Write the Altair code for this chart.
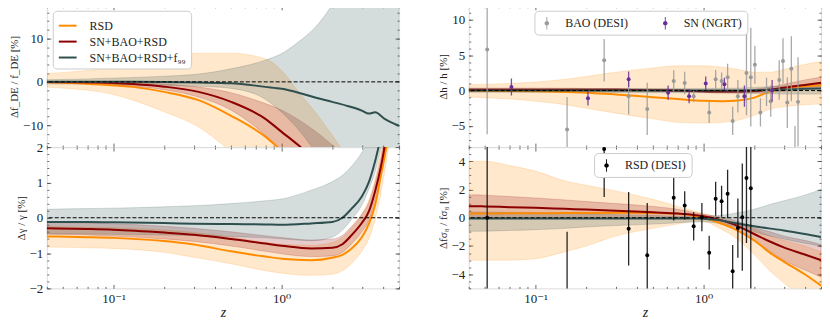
import altair as alt
import pandas as pd

FONT = "Liberation Serif, DejaVu Serif, serif"
C_RSD = "#ff8c00"
C_SBR = "#8b0000"
C_ALL = "#2f4f4f"
C_BAO = "#9a9a9a"
C_SN = "#6a2c9a"
NAMES = ["RSD", "SN+BAO+RSD", "SN+BAO+RSD+f₉₉"]
COLORS = [C_RSD, C_SBR, C_ALL]

# ---------------- top-left: Delta f_DE / f_DE ----------------
Z_TL = [0.04, 0.06, 0.083, 0.13, 0.2, 0.32, 0.5, 0.8, 1.0, 1.26, 1.58, 2.0, 2.5, 3.0, 3.3, 3.6, 4.1, 5.0]
TL_RSD_MID = [-0.1, -0.3, -0.6, -1.15, -2.3, -4.2, -7.8, -12.6, -15.8, -19, -23, -27, -31, -35, -37, -39, -42, -46]
TL_RSD_LO = [-1.2, -1.7, -2.3, -4.2, -6.9, -10.4, -16, -22, -26, -30, -34, -38, -42, -46, -48, -50, -53, -57]
TL_RSD_HI = [1.9, 2.4, 2.9, 4.0, 5.5, 6.6, 6.6, 5.3, 2.6, -2.3, -6.9, -12.3, -18, -24, -27, -30, -34, -40]
TL_SBR_MID = [-0.05, -0.1, -0.15, -0.5, -1.1, -2.3, -4.6, -8.5, -11.5, -14.6, -18, -22, -26, -30, -32, -34, -37, -41]
TL_SBR_LO = [-0.2, -0.35, -0.5, -1.0, -1.8, -3.5, -6.5, -12.3, -16, -20, -24, -28, -32, -36, -38, -40, -43, -47]
TL_SBR_HI = [0.1, 0.1, 0.05, -0.1, -0.5, -1.2, -2.5, -5.0, -6.5, -8.7, -11.3, -14.5, -18, -22, -24, -26, -29, -33]
TL_ALL_MID = [0, 0, 0, 0, -0.05, -0.15, -0.3, -1.15, -1.6, -2.5, -3.6, -4.6, -5.6, -6.6, -7.3, -7.0, -8.5, -10.1]
TL_ALL_LO = [-0.5, -0.5, -0.6, -0.7, -0.8, -1.0, -1.5, -4, -7, -11, -16, -22, -28, -34, -38, -42, -47, -55]
TL_ALL_HI = [0.5, 0.6, 0.8, 1.0, 1.3, 1.8, 3.0, 5.0, 6.5, 9.2, 12.5, 17.8, 25, 32, 36, 40, 46, 55]

# ---------------- bottom-left: Delta gamma / gamma ----------------
Z_BL = [0.04, 0.07, 0.1, 0.2, 0.3, 0.5, 0.8, 1.0, 1.5, 2.0, 2.3, 2.6, 3.0, 3.3, 3.6, 3.9, 4.2, 4.6, 5.0]
BL_RSD_MID = [-0.53, -0.55, -0.57, -0.66, -0.76, -0.95, -1.1, -1.16, -1.2, -1.13, -1.05, -0.88, -0.55, -0.18, 0.36, 1.2, 2.0, 3.2, 4.5]
BL_RSD_LO = [-0.83, -0.85, -0.87, -0.98, -1.12, -1.3, -1.5, -1.57, -1.63, -1.6, -1.5, -1.3, -0.95, -0.6, -0.05, 0.7, 1.6, 3.0, 4.5]
BL_RSD_HI = [-0.25, -0.27, -0.28, -0.35, -0.42, -0.55, -0.7, -0.75, -0.78, -0.7, -0.55, -0.3, 0.1, 0.5, 1.1, 1.9, 2.8, 4.0, 5.0]
BL_SBR_MID = [-0.3, -0.32, -0.34, -0.42, -0.48, -0.6, -0.73, -0.79, -0.87, -0.85, -0.75, -0.5, -0.15, 0.17, 0.75, 1.45, 2.3, 3.5, 5.0]
BL_SBR_LO = [-0.47, -0.49, -0.52, -0.6, -0.67, -0.8, -0.95, -1.02, -1.1, -1.08, -0.98, -0.75, -0.4, -0.08, 0.5, 1.2, 2.0, 3.2, 4.6]
BL_SBR_HI = [-0.13, -0.15, -0.17, -0.24, -0.3, -0.4, -0.51, -0.56, -0.63, -0.6, -0.5, -0.25, 0.1, 0.43, 1.0, 1.7, 2.6, 3.8, 5.4]
BL_ALL_MID = [-0.12, -0.12, -0.13, -0.15, -0.17, -0.18, -0.19, -0.2, -0.16, -0.12, 0.0, 0.25, 0.6, 1.0, 1.6, 2.3, 3.0, 4.0, 5.0]
BL_ALL_LO = [-0.45, -0.46, -0.47, -0.49, -0.5, -0.53, -0.57, -0.6, -0.65, -0.55, -0.35, -0.05, 0.35, 0.8, 1.3, 2.0, 2.7, 3.6, 4.6]
BL_ALL_HI = [0.24, 0.26, 0.27, 0.31, 0.34, 0.4, 0.48, 0.53, 0.78, 1.02, 1.2, 1.45, 1.85, 2.2, 2.7, 3.3, 4.0, 5.0, 6.0]

# ---------------- top-right: Delta h / h ----------------
Z_TR = [0.04, 0.07, 0.1, 0.15, 0.2, 0.3, 0.5, 0.7, 1.0, 1.3, 1.6, 2.0, 2.5, 3.0, 3.5, 4.0, 5.0]
TR_RSD_MID = [0, -0.05, -0.1, -0.2, -0.3, -0.55, -0.95, -1.2, -1.45, -1.5, -1.4, -1.0, -0.1, 0.3, 0.5, 0.6, 0.75]
TR_RSD_LO = [-0.9, -1.2, -1.5, -2.0, -2.5, -3.2, -4.0, -4.5, -4.6, -4.5, -4.2, -3.5, -2.6, -2.3, -2.1, -2.0, -1.9]
TR_RSD_HI = [0.84, 1.0, 1.2, 1.6, 2.0, 2.6, 3.2, 3.5, 3.5, 3.3, 3.0, 2.6, 2.6, 3.0, 3.4, 3.7, 4.1]
TR_SBR_MID = [0.1, 0.1, 0.1, 0.1, 0.1, 0.1, 0.05, 0.0, -0.1, -0.15, -0.15, -0.05, 0.15, 0.4, 0.6, 0.8, 1.1]
TR_SBR_LO = [-0.15, -0.15, -0.15, -0.13, -0.1, -0.08, -0.1, -0.15, -0.25, -0.35, -0.35, -0.3, -0.2, -0.1, 0.05, 0.15, 0.3]
TR_SBR_HI = [0.35, 0.35, 0.35, 0.33, 0.3, 0.28, 0.22, 0.15, 0.05, 0.05, 0.05, 0.2, 0.5, 0.9, 1.2, 1.5, 1.9]
TR_ALL_MID = [0, 0, 0, 0, 0, 0, 0, 0, 0, 0, 0, 0.05, 0.1, 0.15, 0.2, 0.25, 0.3]
TR_ALL_LO = [-0.25, -0.25, -0.25, -0.27, -0.28, -0.3, -0.3, -0.3, -0.3, -0.32, -0.35, -0.4, -0.45, -0.5, -0.5, -0.5, -0.5]
TR_ALL_HI = [0.25, 0.25, 0.25, 0.27, 0.28, 0.3, 0.3, 0.3, 0.3, 0.32, 0.35, 0.45, 0.55, 0.65, 0.75, 0.8, 0.9]

# ---------------- bottom-right: Delta f sigma8 / f sigma8 ----------------
Z_BR = [0.04, 0.05, 0.07, 0.1, 0.15, 0.2, 0.3, 0.5, 0.7, 0.9, 1.0, 1.2, 1.5, 2.0, 2.5, 3.0, 4.0, 5.0]
BR_RSD_MID = [0.3, 0.3, 0.31, 0.32, 0.33, 0.34, 0.35, 0.33, 0.28, 0.12, 0.0, -0.3, -0.75, -1.6, -2.5, -3.1, -4.0, -4.8]
BR_RSD_LO = [-3.0, -3.0, -3.0, -2.9, -2.4, -2.0, -1.3, -0.75, -0.45, -0.25, -0.25, -0.65, -1.3, -2.6, -3.8, -4.6, -5.8, -7.0]
BR_RSD_HI = [4.0, 4.0, 3.7, 3.3, 2.6, 2.3, 1.9, 1.3, 0.8, 0.45, 0.3, 0.05, -0.3, -0.8, -1.3, -1.6, -2.0, -2.4]
BR_SBR_MID = [0.82, 0.8, 0.75, 0.7, 0.63, 0.58, 0.5, 0.38, 0.3, 0.18, 0.1, -0.1, -0.45, -1.15, -1.7, -2.1, -2.6, -3.0]
BR_SBR_LO = [0.02, 0.02, 0.0, 0.0, 0.0, 0.0, 0.0, -0.05, 0.0, 0.02, -0.05, -0.3, -0.75, -1.6, -2.4, -3.0, -3.7, -4.2]
BR_SBR_HI = [1.62, 1.6, 1.5, 1.4, 1.26, 1.15, 1.0, 0.8, 0.6, 0.35, 0.25, 0.1, -0.15, -0.7, -1.0, -1.3, -1.6, -1.9]
BR_ALL_MID = [-0.05, -0.05, -0.05, -0.05, -0.05, -0.05, -0.05, -0.05, -0.05, -0.05, -0.08, -0.15, -0.35, -0.6, -0.77, -0.9, -1.15, -1.37]
BR_ALL_LO = [-0.96, -0.95, -0.9, -0.85, -0.75, -0.65, -0.55, -0.45, -0.35, -0.3, -0.3, -0.38, -0.6, -1.0, -1.3, -1.5, -1.8, -2.0]
BR_ALL_HI = [0.4, 0.4, 0.38, 0.36, 0.32, 0.28, 0.22, 0.16, 0.1, 0.08, 0.1, 0.15, 0.3, 0.6, 0.95, 1.2, 1.6, 2.0]

# ---------------- data points ----------------
BAO_Z = [0.0515, 0.154, 0.256, 0.358, 0.462, 0.664, 0.772, 0.873, 1.08, 1.18, 1.28, 1.39, 1.49, 1.6,
         1.8, 1.91, 2.02, 2.18, 2.37, 2.51, 2.82, 2.97, 3.15, 3.33, 3.5, 3.65]
BAO_V = [5.8, -5.5, 4.3, -0.8, -2.6, 1.36, 1.08, -0.8, -3.1, 1.6, 1.36, 1.9, -4.3, -0.8,
         2.5, 1.9, 3.65, -3.1, -0.2, -1.5, 1.5, 4.2, -1.7, 3.1, -10.0, -1.6]
BAO_E = [12, 4.6, 3.0, 2.6, 3.7, 1.5, 1.6, 0.8, 1.5, 1.3, 1.2, 1.9, 2.0, 2.3,
         6.0, 7.0, 2.7, 2.0, 2.0, 2.2, 2.8, 3.2, 3.6, 4.6, 5.0, 6.3]
SN_Z = [0.0718, 0.205, 0.358, 0.615, 0.82, 1.03, 1.33, 1.75, 2.56]
SN_V = [0.5, -1.1, 1.6, -0.3, -0.8, 1.0, 0.9, -0.8, 0.0]
SN_E = [1.2, 1.0, 1.1, 1.0, 1.0, 1.0, 0.9, 1.5, 1.5]
RSD_Z = [0.0515, 0.154, 0.256, 0.358, 0.462, 0.664, 0.772, 0.873, 0.977, 1.08, 1.18, 1.28, 1.39, 1.49,
         1.6, 1.70, 1.8, 1.91]
RSD_V = [0.0, -7.0, 4.86, -0.78, -2.65, 1.41, 0.87, -0.61, 0.04, -2.47, 1.34, 1.17, 1.69, -3.78,
         -0.73, 0.04, 2.82, 2.08]
RSD_E = [12, 6.0, 3.4, 2.6, 3.7, 1.6, 1.0, 1.0, 1.0, 1.2, 1.2, 1.1, 1.7, 1.85,
         2.1, 3.8, 4.6, 9.0]

X_MAJOR = [0.1, 1.0]
X_MINOR = [0.04, 0.05, 0.06, 0.07, 0.08, 0.09, 0.2, 0.3, 0.4, 0.5, 0.6, 0.7, 0.8, 0.9,
           2.0, 3.0, 4.0, 5.0]

W, H = 354, 142
TICK_COL = "#444"
XSCALE = alt.Scale(type="log", domain=[0.04, 5.0], nice=False)
XLABEL = "datum.value < 0.5 ? '10⁻¹' : '10⁰'"
ERRBAR = ("M-0.07,-1L0.07,-1L0.07,1L-0.07,1Z "
          "M0.36,0A0.36,0.36,0,1,1,-0.36,0A0.36,0.36,0,1,1,0.36,0Z")


def long_lines(z, rows):
    recs = []
    for name, lo, mid, hi in rows:
        for zi, a, m, b in zip(z, lo, mid, hi):
            recs.append({"z": zi, "lo": a, "mid": m, "hi": b, "s": name})
    return pd.DataFrame(recs)


def axis_kw(orient, size, **extra):
    kw = dict(orient=orient, domain=False, grid=False, tickSize=size, offset=-size,
              tickColor=TICK_COL, tickWidth=0.8, labelFont=FONT, labelFontSize=13,
              labelColor="#222", labelPadding=4, labelFlush=False, labelOverlap=False,
              titleFont=FONT, titleFontWeight="normal", titleColor="#222")
    kw.update(extra)
    return alt.Axis(**kw)


def steps(lo, hi, step):
    n0 = int(round(lo / step))
    n1 = int(round(hi / step))
    out = [round(k * step, 6) for k in range(n0, n1 + 1)]
    return [v for v in out if lo - 1e-9 <= v <= hi + 1e-9]


def panel(z, rows, ydom, ystep_minor, ystep_major, ytitle, xlabels, legend=None, extra=()):
    df = long_lines(z, rows)
    ys = alt.Scale(domain=ydom, nice=False, zero=False)
    xn = alt.X("z:Q", scale=XSCALE, axis=None)
    bands = []
    for (name, lo, mid, hi), col in zip(rows, COLORS):
        bdf = pd.DataFrame({"z": z, "lo": lo, "hi": hi})
        bands.append(alt.Chart(bdf).mark_area(
            clip=True, fill=col, fillOpacity=0.2, stroke=col, strokeOpacity=0.18,
            strokeWidth=1, interpolate="monotone").encode(
            x=xn, y=alt.Y("lo:Q", scale=ys, axis=None), y2="hi:Q"))
    stroke_kw = dict(scale=alt.Scale(domain=NAMES, range=COLORS))
    stroke_kw["legend"] = legend if legend is not None else None
    lines = alt.Chart(df).mark_line(clip=True, strokeWidth=2, interpolate="monotone").encode(
        x=xn,
        y=alt.Y("mid:Q", scale=ys, axis=None),
        stroke=alt.Stroke("s:N", **stroke_kw),
    )
    zero = alt.Chart(pd.DataFrame({"y0": [0.0]})).mark_rule(
        color="black", strokeDash=[4, 2], strokeWidth=1).encode(
        y=alt.Y("y0:Q", scale=ys, axis=None))

    ymajor = steps(ydom[0], ydom[1], ystep_major)
    yminor = steps(ydom[0], ydom[1], ystep_minor)
    ax_df = pd.DataFrame({"z": [1.0], "v": [0.0]})
    xkw = dict(values=X_MAJOR, labelExpr=XLABEL, labels=xlabels)
    if xlabels:
        xkw.update(title="z", titleFontSize=14, titleFontStyle="italic", titlePadding=0)
    else:
        xkw.update(title=None)
    ax_layers = []
    specs = [
        (axis_kw("bottom", 4, **xkw),
         axis_kw("left", 4, values=ymajor, format="d", title=ytitle, titleFontSize=11, titlePadding=3)),
        (axis_kw("bottom", 2, values=X_MINOR, labels=False, title=None),
         axis_kw("left", 2, values=yminor, labels=False, title=None)),
        (axis_kw("top", 4, values=X_MAJOR, labels=False, title=None),
         axis_kw("right", 4, values=ymajor, labels=False, title=None)),
        (axis_kw("top", 2, values=X_MINOR, labels=False, title=None),
         axis_kw("right", 2, values=yminor, labels=False, title=None)),
    ]
    for xa, ya in specs:
        ax_layers.append(alt.Chart(ax_df).mark_point(opacity=0).encode(
            x=alt.X("z:Q", scale=XSCALE, axis=xa),
            y=alt.Y("v:Q", scale=ys, axis=ya)))
    layers = bands + [lines, zero] + list(extra) + ax_layers
    return alt.layer(*layers).resolve_axis(x="independent", y="independent").properties(
        width=W, height=H)


def points_layers(z, v, e, label, color, ys, scale, legend):
    d = pd.DataFrame({"z": z, "v": v, "lo": [a - b for a, b in zip(v, e)],
                      "hi": [a + b for a, b in zip(v, e)], "src": [label] * len(z)})
    xn = alt.X("z:Q", scale=XSCALE, axis=None)
    bars = alt.Chart(d).mark_rule(clip=True, strokeWidth=1.3, color=color, opacity=0.85).encode(
        x=xn, y=alt.Y("lo:Q", scale=ys, axis=None), y2="hi:Q")
    dots = alt.Chart(d).mark_circle(clip=True, size=16, opacity=1).encode(
        x=xn, y=alt.Y("v:Q", scale=ys, axis=None),
        color=alt.Color("src:N", scale=scale, legend=legend))
    return [bars, dots]


leg_tl = alt.Legend(title=None, orient="none", legendX=6, legendY=5, symbolType="stroke",
                    symbolSize=320, symbolStrokeWidth=2, labelFont=FONT, labelFontSize=12,
                    labelColor="#222", fillColor="white", strokeColor="#ccc", cornerRadius=4,
                    padding=5, rowPadding=0, labelOffset=12)

ys_tr = alt.Scale(domain=[-8, 12], nice=False, zero=False)
ys_br = alt.Scale(domain=[-5, 5], nice=False, zero=False)

tr_scale = alt.Scale(domain=["BAO (DESI)", "SN (NGRT)"], range=[C_BAO, C_SN])
tr_legend = alt.Legend(title=None, orient="none", legendX=66, legendY=5, direction="horizontal",
                       columns=2, symbolType=ERRBAR, symbolSize=160, symbolOpacity=1,
                       labelFont=FONT, labelFontSize=12, labelColor="#222", fillColor="white",
                       strokeColor="#ccc", cornerRadius=4, padding=5, columnPadding=30,
                       labelOffset=11)
br_scale = alt.Scale(domain=["RSD (DESI)"], range=["black"])
br_legend = alt.Legend(title=None, orient="none", legendX=126, legendY=6, symbolType=ERRBAR,
                       symbolSize=160, symbolOpacity=1, labelFont=FONT, labelFontSize=12,
                       labelColor="#222", fillColor="white", strokeColor="#ccc", cornerRadius=4,
                       padding=5, labelOffset=11)

tr_extra = (points_layers(BAO_Z, BAO_V, BAO_E, "BAO (DESI)", C_BAO, ys_tr, tr_scale, tr_legend)
            + points_layers(SN_Z, SN_V, SN_E, "SN (NGRT)", C_SN, ys_tr, tr_scale, tr_legend))
br_extra = points_layers(RSD_Z, RSD_V, RSD_E, "RSD (DESI)", "black", ys_br, br_scale, br_legend)

tl = panel(Z_TL, [(NAMES[0], TL_RSD_LO, TL_RSD_MID, TL_RSD_HI),
                  (NAMES[1], TL_SBR_LO, TL_SBR_MID, TL_SBR_HI),
                  (NAMES[2], TL_ALL_LO, TL_ALL_MID, TL_ALL_HI)],
           [-15, 17.5], 2, 10, "Δf_DE / f_DE [%]", False, legend=leg_tl)
bl = panel(Z_BL, [(NAMES[0], BL_RSD_LO, BL_RSD_MID, BL_RSD_HI),
                  (NAMES[1], BL_SBR_LO, BL_SBR_MID, BL_SBR_HI),
                  (NAMES[2], BL_ALL_LO, BL_ALL_MID, BL_ALL_HI)],
           [-2, 2], 0.2, 1, "Δγ / γ [%]", True)
tr = panel(Z_TR, [(NAMES[0], TR_RSD_LO, TR_RSD_MID, TR_RSD_HI),
                  (NAMES[1], TR_SBR_LO, TR_SBR_MID, TR_SBR_HI),
                  (NAMES[2], TR_ALL_LO, TR_ALL_MID, TR_ALL_HI)],
           [-8, 12], 1, 5, "Δh / h [%]", False, extra=tr_extra)
br = panel(Z_BR, [(NAMES[0], BR_RSD_LO, BR_RSD_MID, BR_RSD_HI),
                  (NAMES[1], BR_SBR_LO, BR_SBR_MID, BR_SBR_HI),
                  (NAMES[2], BR_ALL_LO, BR_ALL_MID, BR_ALL_HI)],
           [-5, 5], 0.5, 2, "Δfσ₈ / fσ₈ [%]", True, extra=br_extra)

RES = dict(stroke="independent", color="independent")
left = alt.vconcat(tl, bl, spacing=0, bounds="flush").resolve_scale(**RES).resolve_legend(**RES)
right = alt.vconcat(tr, br, spacing=0, bounds="flush").resolve_scale(**RES).resolve_legend(**RES)
chart = alt.hconcat(left, right, spacing=36).resolve_scale(**RES).resolve_legend(
    **RES).properties(
    padding={"left": 0, "top": -4, "right": 0, "bottom": 0}
).configure_view(stroke="#666", strokeWidth=1).configure(background="white")

chart.save("out.html", embed_options={"renderer": "svg", "actions": False})
